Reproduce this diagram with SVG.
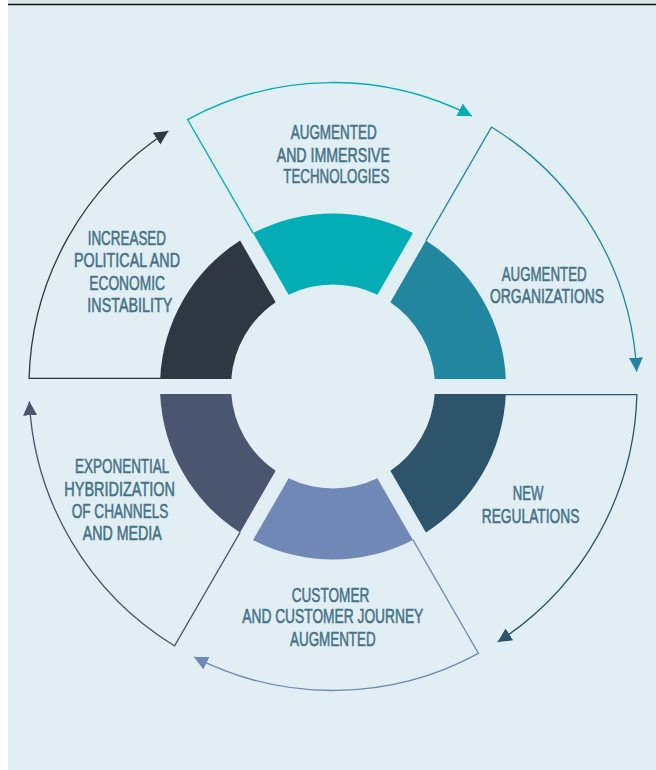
<svg xmlns="http://www.w3.org/2000/svg" width="656" height="770" viewBox="0 0 656 770">
  <defs>
    <style>
      .label { font-family: "Liberation Sans", Arial, sans-serif; font-size: 19.5px; fill: #467287; stroke: #467287; stroke-width: 0.55px; }
      .link { fill: none; stroke-width: 1.3; }
    </style>
    <marker id="tip-teal" markerUnits="userSpaceOnUse" markerWidth="16" markerHeight="16" refX="14" refY="7" orient="auto">
      <path d="M0,0 L14,7 L0,14 Z" fill="#02adb5"/>
    </marker>
    <marker id="tip-blue" markerUnits="userSpaceOnUse" markerWidth="16" markerHeight="16" refX="14" refY="7" orient="auto">
      <path d="M0,0 L14,7 L0,14 Z" fill="#2286a1"/>
    </marker>
    <marker id="tip-navy" markerUnits="userSpaceOnUse" markerWidth="16" markerHeight="16" refX="14" refY="7" orient="auto">
      <path d="M0,0 L14,7 L0,14 Z" fill="#2d546b"/>
    </marker>
    <marker id="tip-lavender" markerUnits="userSpaceOnUse" markerWidth="16" markerHeight="16" refX="14" refY="7" orient="auto">
      <path d="M0,0 L14,7 L0,14 Z" fill="#6f88b5"/>
    </marker>
    <marker id="tip-slate" markerUnits="userSpaceOnUse" markerWidth="16" markerHeight="16" refX="14" refY="7" orient="auto">
      <path d="M0,0 L14,7 L0,14 Z" fill="#4a5670"/>
    </marker>
    <marker id="tip-charcoal" markerUnits="userSpaceOnUse" markerWidth="16" markerHeight="16" refX="14" refY="7" orient="auto">
      <path d="M0,0 L14,7 L0,14 Z" fill="#2f3842"/>
    </marker>
  </defs>

  <!-- page -->
  <rect x="0" y="0" width="656" height="770" fill="#ffffff"/>
  <rect x="8" y="0" width="648" height="770" fill="#e1eff4"/>
  <rect x="8" y="0" width="648" height="4" fill="#dbe4e8"/>
  <line x1="8" y1="4.5" x2="656" y2="4.5" stroke="#111111" stroke-width="1.3"/>

  <!-- cycle connectors: each wedge outline sweeps clockwise to the next wedge -->
  <g id="connectors">
    <path class="link" stroke="#02adb5" marker-end="url(#tip-teal)" d="M253.077,233.069 L187.542,119.559 A304,304 0 0 1 471.94,116.12"/>
    <path class="link" stroke="#2286a1" marker-end="url(#tip-blue)" d="M425.914,240.569 L491.449,127.059 A304,304 0 0 1 636.64,371.65"/>
    <path class="link" stroke="#2d546b" marker-end="url(#tip-navy)" d="M434.724,394.6 L636.907,394.6 A304,304 0 0 1 497.68,642.03"/>
    <path class="link" stroke="#6f88b5" marker-end="url(#tip-lavender)" d="M412.923,539.931 L478.458,653.441 A304,304 0 0 1 194.06,656.88"/>
    <path class="link" stroke="#4a5670" marker-end="url(#tip-slate)" d="M240.086,532.431 L174.551,645.941 A304,304 0 0 1 29.36,401.35"/>
    <path class="link" stroke="#2f3842" marker-end="url(#tip-charcoal)" d="M231.276,378.4 L29.093,378.4 A304,304 0 0 1 168.32,130.97"/>
  </g>

  <g id="node-technologies">
    <path fill="#02adb5" d="M253.077,233.069 A173,173 0 0 1 412.923,233.069 L377.367,294.654 A102,102 0 0 0 288.633,294.654 Z"/>
    <text class="label" x="290.7" y="139" textLength="86" lengthAdjust="spacingAndGlyphs">AUGMENTED</text>
    <text class="label" x="276.7" y="161.5" textLength="113.3" lengthAdjust="spacingAndGlyphs">AND IMMERSIVE</text>
    <text class="label" x="283.3" y="183.3" textLength="106" lengthAdjust="spacingAndGlyphs">TECHNOLOGIES</text>
  </g>

  <g id="node-organizations">
    <path fill="#2286a1" d="M425.914,240.569 A173,173 0 0 1 505.837,379 L434.724,379 A102,102 0 0 0 390.357,302.154 Z"/>
    <text class="label" x="501.7" y="281" textLength="85" lengthAdjust="spacingAndGlyphs">AUGMENTED</text>
    <text class="label" x="490" y="303.3" textLength="114" lengthAdjust="spacingAndGlyphs">ORGANIZATIONS</text>
  </g>

  <g id="node-regulations">
    <path fill="#2d546b" d="M505.837,394 A173,173 0 0 1 425.914,532.431 L390.357,470.846 A102,102 0 0 0 434.724,394 Z"/>
    <text class="label" x="512.7" y="500" textLength="30.7" lengthAdjust="spacingAndGlyphs">NEW</text>
    <text class="label" x="481.7" y="522.7" textLength="97.7" lengthAdjust="spacingAndGlyphs">REGULATIONS</text>
  </g>

  <g id="node-customer">
    <path fill="#6f88b5" d="M412.923,539.931 A173,173 0 0 1 253.077,539.931 L288.633,478.346 A102,102 0 0 0 377.367,478.346 Z"/>
    <text class="label" x="291.7" y="601.7" textLength="77.7" lengthAdjust="spacingAndGlyphs">CUSTOMER</text>
    <text class="label" x="242.3" y="623.3" textLength="181" lengthAdjust="spacingAndGlyphs">AND CUSTOMER JOURNEY</text>
    <text class="label" x="290" y="646" textLength="85.7" lengthAdjust="spacingAndGlyphs">AUGMENTED</text>
  </g>

  <g id="node-hybridization">
    <path fill="#4a5670" d="M240.086,532.431 A173,173 0 0 1 160.163,394 L231.276,394 A102,102 0 0 0 275.643,470.846 Z"/>
    <text class="label" x="75" y="473.3" textLength="94.3" lengthAdjust="spacingAndGlyphs">EXPONENTIAL</text>
    <text class="label" x="64.3" y="495.7" textLength="110.7" lengthAdjust="spacingAndGlyphs">HYBRIDIZATION</text>
    <text class="label" x="71.7" y="517.7" textLength="96.7" lengthAdjust="spacingAndGlyphs">OF CHANNELS</text>
    <text class="label" x="82.7" y="540" textLength="79" lengthAdjust="spacingAndGlyphs">AND MEDIA</text>
  </g>

  <g id="node-instability">
    <path fill="#2f3842" d="M160.163,379 A173,173 0 0 1 240.086,240.569 L275.643,302.154 A102,102 0 0 0 231.276,379 Z"/>
    <text class="label" x="87.7" y="245" textLength="78.3" lengthAdjust="spacingAndGlyphs">INCREASED</text>
    <text class="label" x="74" y="267.3" textLength="106" lengthAdjust="spacingAndGlyphs">POLITICAL AND</text>
    <text class="label" x="89.3" y="290" textLength="75.7" lengthAdjust="spacingAndGlyphs">ECONOMIC</text>
    <text class="label" x="87.3" y="312.3" textLength="85" lengthAdjust="spacingAndGlyphs">INSTABILITY</text>
  </g>
</svg>
